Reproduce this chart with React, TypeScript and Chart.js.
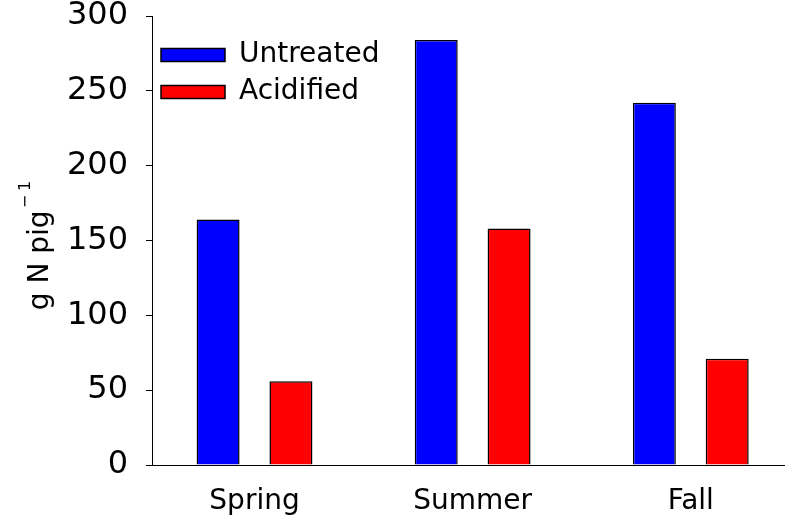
import React, { useEffect, useRef } from 'react';
import { Chart, registerables } from 'chart.js';

Chart.register(...registerables);

const categories = ['Spring', 'Summer', 'Fall'];
const seriesNames = ['Untreated', 'Acidified'];
const untreated = [164, 284, 242];
const acidified = [56, 158, 71];
const yTicks = [0, 50, 100, 150, 200, 250, 300];
const yTitleMain = 'g N pig';
const yTitleSup = '−1';

const yTitlePlugin = {
  id: 'yTitleSup',
  afterDraw(chart: any) {
    const { ctx, chartArea } = chart;
    const family = "'DejaVu Sans', sans-serif";
    const mainFont = `28px ${family}`;
    const supFont = `16px ${family}`;
    ctx.save();
    (ctx as any).letterSpacing = '0px';
    ctx.font = mainFont;
    const w1 = ctx.measureText(yTitleMain).width;
    ctx.font = supFont;
    (ctx as any).letterSpacing = '4px';
    const w2 = ctx.measureText(yTitleSup).width;
    const gap = 2;
    const total = w1 + gap + w2;
    const cy = (chartArea.top + chartArea.bottom) / 2 + 3;
    ctx.translate(48, cy);
    ctx.rotate(-Math.PI / 2);
    ctx.fillStyle = '#000';
    ctx.textBaseline = 'alphabetic';
    ctx.textAlign = 'left';
    (ctx as any).letterSpacing = '0px';
    ctx.font = mainFont;
    ctx.fillText(yTitleMain, -total / 2, 0);
    ctx.font = supFont;
    (ctx as any).letterSpacing = '4px';
    ctx.fillText(yTitleSup, -total / 2 + w1 + gap, -18);
    ctx.restore();
  },
};

export default function App() {
  const ref = useRef<HTMLCanvasElement>(null);

  useEffect(() => {
    const canvas = ref.current;
    if (!canvas) return;
    Chart.defaults.font.family = "'DejaVu Sans', sans-serif";
    Chart.defaults.color = '#000';
    const chart = new Chart(canvas, {
      type: 'bar',
      data: {
        datasets: [
          {
            label: seriesNames[0],
            data: untreated.map((v, i) => ({ x: i, y: v })),
            backgroundColor: '#0000ff',
            borderColor: '#000000',
            borderWidth: 1.5,
            categoryPercentage: 0.668,
            barPercentage: 0.59,
          },
          {
            label: seriesNames[1],
            data: acidified.map((v, i) => ({ x: i, y: v })),
            backgroundColor: '#ff0000',
            borderColor: '#000000',
            borderWidth: 1.5,
            categoryPercentage: 0.668,
            barPercentage: 0.59,
          },
        ],
      },
      options: {
        responsive: false,
        animation: false,
        layout: { padding: { top: 16, left: 0, right: 0, bottom: 0 } },
        plugins: {
          tooltip: { enabled: false },
          legend: {
            position: 'chartArea',
            align: 'start',
            title: { display: true, text: '', padding: 0, font: { size: 32, lineHeight: 1 } },
            labels: {
              color: '#000',
              font: { size: 28 },
              boxWidth: 64,
              boxHeight: 13,
              padding: 9,
            },
          },
        },
        scales: {
          x: {
            type: 'linear',
            min: -0.47,
            max: 2.432,
            offset: false,
            grid: { display: false, offset: false, drawTicks: false },
            border: { display: true, color: '#000', width: 1 },
            afterBuildTicks: (s: any) => {
              s.ticks = categories.map((_, i) => ({ value: i }));
            },
            ticks: {
              callback: (v: any) => categories[Math.round(Number(v))],
              font: { size: 28 },
              color: '#000',
              padding: 20,
              maxRotation: 0,
              autoSkip: false,
            },
            afterFit: (s: any) => {
              s.height = 53;
            },
          },
          y: {
            min: 0,
            max: 300,
            afterBuildTicks: (s: any) => {
              s.ticks = yTicks.map((v) => ({ value: v }));
            },
            ticks: {
              font: { size: 32, lineHeight: 1 },
              color: '#000',
              padding: 18,
            },
            grid: {
              display: true,
              drawOnChartArea: false,
              drawTicks: true,
              tickLength: 6,
              color: '#000',
            },
            border: { display: true, color: '#000', width: 1 },
            title: { display: false },
            afterFit: (s: any) => {
              s.width = 152;
              s.paddingTop = 0;
              s.paddingBottom = 0;
            },
          },
        },
      },
      plugins: [yTitlePlugin],
    } as any);
    return () => chart.destroy();
  }, []);

  return (
    <div style={{ position: 'fixed', left: 0, top: 0, width: 785, height: 518, background: '#fff' }}>
      <canvas ref={ref} width={785} height={518} style={{ display: 'block' }} />
    </div>
  );
}
